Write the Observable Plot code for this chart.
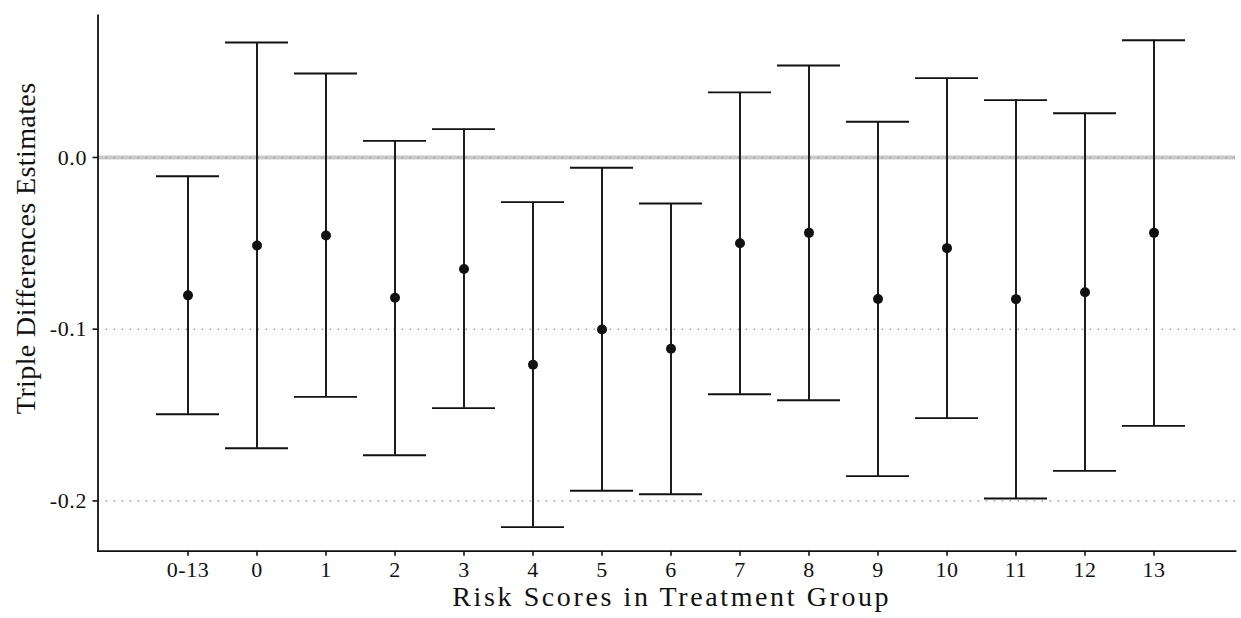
<!DOCTYPE html>
<html>
<head>
<meta charset="utf-8">
<script src="https://cdn.jsdelivr.net/npm/d3@7"></script>
<script src="https://cdn.jsdelivr.net/npm/@observablehq/plot@0.6"></script>
<style>
  html, body { margin: 0; padding: 0; background: #ffffff; }
  #chart { width: 1241px; height: 618px; }
</style>
</head>
<body>
<div id="chart"></div>
<script>
// ---- data ----
const categories = ["0-13", "0", "1", "2", "3", "4", "5", "6", "7", "8", "9", "10", "11", "12", "13"];
const estimates = [-0.0803, -0.0513, -0.0454, -0.0817, -0.0649, -0.1207, -0.1002, -0.1114, -0.0499, -0.0439, -0.0824, -0.0528, -0.0825, -0.0785, -0.0439];
const lowerCI   = [-0.1495, -0.1693, -0.1394, -0.1734, -0.1460, -0.2153, -0.1941, -0.1961, -0.1379, -0.1414, -0.1856, -0.1518, -0.1986, -0.1825, -0.1563];
const upperCI   = [-0.0109, 0.0670, 0.0489, 0.0097, 0.0165, -0.0260, -0.0060, -0.0268, 0.0379, 0.0536, 0.0208, 0.0462, 0.0334, 0.0258, 0.0683];
const yTicks = [-0.2, -0.1, 0.0];
const xTitle = "Risk Scores in Treatment Group";
const yTitle = "Triple Differences Estimates";

const rows = categories.map((c, i) => ({cat: c, est: estimates[i], lo: lowerCI[i], hi: upperCI[i]}));

const W = 1241, H = 618;
const mL = 97.5, mT = 15, mB = 67.3, mR = 6;
const yDomain = [-0.2293, 0.0827];
const font = "'Liberation Serif', 'Times New Roman', serif";
const ink = "#111111";

const chart = Plot.plot({
  width: W,
  height: H,
  marginLeft: mL,
  marginTop: mT,
  marginBottom: mB,
  marginRight: mR,
  style: {fontFamily: font, background: "#ffffff", color: ink},
  x: {type: "band", domain: categories, range: [149.6, 1190.8], paddingInner: 0.094, paddingOuter: 0.047, axis: null},
  y: {domain: yDomain, axis: null},
  marks: [
    Plot.ruleY([0], {stroke: "#c9c9c9", strokeWidth: 4}),
    Plot.ruleY(yTicks, {stroke: "#a0a0a0", strokeWidth: 1.5, strokeDasharray: "1.6,6.4"}),
    Plot.ruleX(rows, {x: "cat", y1: "lo", y2: "hi", stroke: ink, strokeWidth: 1.9}),
    Plot.tickY(rows, {x: "cat", y: "hi", stroke: ink, strokeWidth: 1.9}),
    Plot.tickY(rows, {x: "cat", y: "lo", stroke: ink, strokeWidth: 1.9}),
    Plot.dot(rows, {x: "cat", y: "est", r: 5, fill: ink, stroke: "none"}),
    Plot.axisX({domain: categories, tickSize: 5, tickPadding: 5, fontSize: 22, label: null, stroke: ink, strokeWidth: 1.6}),
    Plot.axisY({ticks: yTicks, tickFormat: d => d.toFixed(1), tickSize: 5, tickPadding: 6, fontSize: 22, label: null, stroke: ink, strokeWidth: 1.6}),
    Plot.frame({anchor: "left", stroke: ink, strokeWidth: 1.8}),
    Plot.frame({anchor: "bottom", stroke: ink, strokeWidth: 1.8}),
    Plot.text([xTitle], {frameAnchor: "bottom", textAnchor: "middle", dx: 5, dy: 55, fontSize: 28, fill: ink}),
    Plot.text([yTitle], {frameAnchor: "left", textAnchor: "middle", dx: -72, dy: -35, rotate: -90, fontSize: 28, fill: ink})
  ]
});
// Palatino-like widths: widen the lettering a little
const sel = d3.select(chart);
sel.selectAll('g[aria-label="text"] text').each(function() {
  const t = d3.select(this);
  t.attr("letter-spacing", t.text() === xTitle ? "2.6px" : "0.4px");
});
sel.selectAll('g[aria-label="x-axis tick label"], g[aria-label="y-axis tick label"]').style("font-size", "22px");
sel.selectAll('g[aria-label="x-axis tick label"] text, g[aria-label="y-axis tick label"] text')
  .style("font-size", "22px").attr("letter-spacing", "0.6px");
document.getElementById("chart").appendChild(chart);
</script>
</body>
</html>
